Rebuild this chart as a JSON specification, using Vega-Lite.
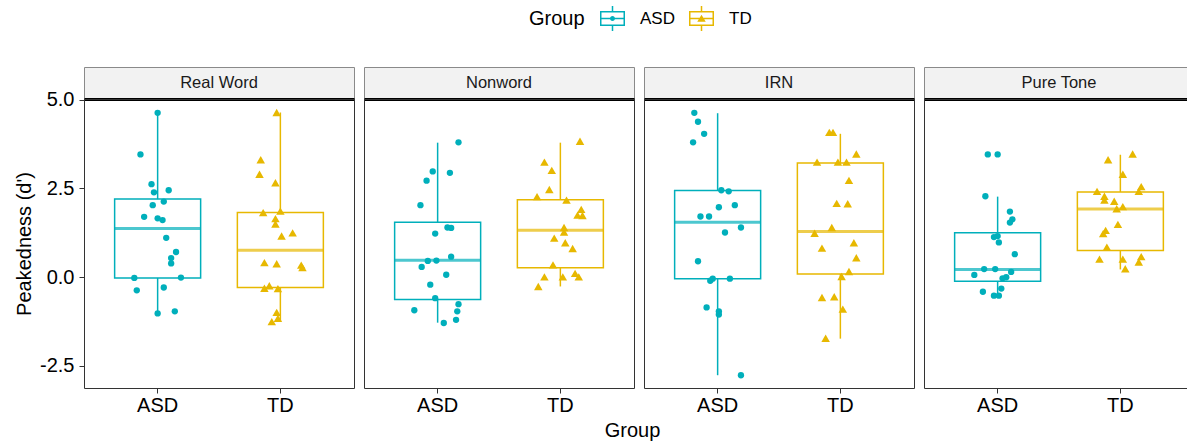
{
 "$schema": "https://vega.github.io/schema/vega-lite/v6.json",
 "padding": {"left": 14, "top": 6, "right": 0, "bottom": 0},
 "background": "white",
 "columns": 4,
 "spacing": {"row": 0, "column": 10},
 "bounds": "flush",
 "config": {
  "font": "Liberation Sans",
  "view": {"stroke": "#333333", "strokeWidth": 1},
  "axis": {"grid": false, "domain": false, "tickColor": "#333333", "tickSize": 5, "labelColor": "black", "labelFontSize": 20, "titleFontSize": 20, "titleFontWeight": "normal", "titleColor": "black"},
  "axisX": {"labelAngle": 0, "labelPadding": 2, "titlePadding": 5},
  "axisY": {"labelPadding": 5, "titlePadding": 5},
  "legend": {"orient": "none", "legendX": 445, "legendY": -61, "direction": "horizontal", "titleOrient": "left", "titleFontSize": 20, "titleFontWeight": "normal", "titleColor": "black", "titlePadding": 15, "titleBaseline": "middle", "titleAnchor": "middle", "labelFontSize": 17, "labelColor": "black", "symbolSize": 625, "labelOffset": 15, "columnPadding": 14, "symbolStrokeWidth": 0}
 },
 "datasets": {
  "box": [
   {"Condition": "Real Word", "Group": "ASD", "lower": -1.02, "q1": -0.02, "median": 1.37, "q3": 2.20, "upper": 4.63},
   {"Condition": "Real Word", "Group": "TD", "lower": -1.25, "q1": -0.29, "median": 0.76, "q3": 1.82, "upper": 4.64},
   {"Condition": "Nonword", "Group": "ASD", "lower": -1.28, "q1": -0.63, "median": 0.48, "q3": 1.55, "upper": 3.79},
   {"Condition": "Nonword", "Group": "TD", "lower": -0.26, "q1": 0.27, "median": 1.32, "q3": 2.18, "upper": 3.79},
   {"Condition": "IRN", "Group": "ASD", "lower": -2.76, "q1": -0.04, "median": 1.55, "q3": 2.44, "upper": 4.62},
   {"Condition": "IRN", "Group": "TD", "lower": -1.73, "q1": 0.09, "median": 1.29, "q3": 3.22, "upper": 4.04},
   {"Condition": "Pure Tone", "Group": "ASD", "lower": -0.53, "q1": -0.11, "median": 0.22, "q3": 1.25, "upper": 2.27},
   {"Condition": "Pure Tone", "Group": "TD", "lower": 0.22, "q1": 0.75, "median": 1.92, "q3": 2.40, "upper": 3.45}
  ],
  "pts": [
   {"Condition": "Real Word", "Group": "ASD", "jitter": 0.00, "value": 4.63},
   {"Condition": "Real Word", "Group": "ASD", "jitter": -0.14, "value": 3.46},
   {"Condition": "Real Word", "Group": "ASD", "jitter": -0.05, "value": 2.62},
   {"Condition": "Real Word", "Group": "ASD", "jitter": -0.03, "value": 2.39},
   {"Condition": "Real Word", "Group": "ASD", "jitter": 0.09, "value": 2.45},
   {"Condition": "Real Word", "Group": "ASD", "jitter": 0.05, "value": 2.13},
   {"Condition": "Real Word", "Group": "ASD", "jitter": -0.04, "value": 2.03},
   {"Condition": "Real Word", "Group": "ASD", "jitter": -0.11, "value": 1.70},
   {"Condition": "Real Word", "Group": "ASD", "jitter": 0.00, "value": 1.66},
   {"Condition": "Real Word", "Group": "ASD", "jitter": 0.04, "value": 1.61},
   {"Condition": "Real Word", "Group": "ASD", "jitter": 0.07, "value": 1.11},
   {"Condition": "Real Word", "Group": "ASD", "jitter": 0.15, "value": 0.71},
   {"Condition": "Real Word", "Group": "ASD", "jitter": 0.11, "value": 0.54},
   {"Condition": "Real Word", "Group": "ASD", "jitter": 0.11, "value": 0.39},
   {"Condition": "Real Word", "Group": "ASD", "jitter": -0.19, "value": -0.02},
   {"Condition": "Real Word", "Group": "ASD", "jitter": 0.19, "value": -0.01},
   {"Condition": "Real Word", "Group": "ASD", "jitter": -0.17, "value": -0.37},
   {"Condition": "Real Word", "Group": "ASD", "jitter": 0.05, "value": -0.29},
   {"Condition": "Real Word", "Group": "ASD", "jitter": 0.00, "value": -1.02},
   {"Condition": "Real Word", "Group": "ASD", "jitter": 0.14, "value": -0.96},
   {"Condition": "Real Word", "Group": "TD", "jitter": -0.03, "value": 4.64},
   {"Condition": "Real Word", "Group": "TD", "jitter": -0.16, "value": 3.31},
   {"Condition": "Real Word", "Group": "TD", "jitter": -0.17, "value": 2.90},
   {"Condition": "Real Word", "Group": "TD", "jitter": -0.04, "value": 2.66},
   {"Condition": "Real Word", "Group": "TD", "jitter": -0.14, "value": 1.82},
   {"Condition": "Real Word", "Group": "TD", "jitter": 0.00, "value": 1.86},
   {"Condition": "Real Word", "Group": "TD", "jitter": -0.04, "value": 1.65},
   {"Condition": "Real Word", "Group": "TD", "jitter": -0.04, "value": 1.50},
   {"Condition": "Real Word", "Group": "TD", "jitter": 0.01, "value": 1.16},
   {"Condition": "Real Word", "Group": "TD", "jitter": 0.10, "value": 1.25},
   {"Condition": "Real Word", "Group": "TD", "jitter": -0.13, "value": 0.41},
   {"Condition": "Real Word", "Group": "TD", "jitter": -0.03, "value": 0.38},
   {"Condition": "Real Word", "Group": "TD", "jitter": 0.17, "value": 0.34},
   {"Condition": "Real Word", "Group": "TD", "jitter": 0.18, "value": 0.27},
   {"Condition": "Real Word", "Group": "TD", "jitter": -0.13, "value": -0.31},
   {"Condition": "Real Word", "Group": "TD", "jitter": -0.09, "value": -0.24},
   {"Condition": "Real Word", "Group": "TD", "jitter": -0.02, "value": -0.32},
   {"Condition": "Real Word", "Group": "TD", "jitter": -0.03, "value": -0.99},
   {"Condition": "Real Word", "Group": "TD", "jitter": -0.02, "value": -1.16},
   {"Condition": "Real Word", "Group": "TD", "jitter": -0.07, "value": -1.25},
   {"Condition": "Nonword", "Group": "ASD", "jitter": 0.17, "value": 3.80},
   {"Condition": "Nonword", "Group": "ASD", "jitter": -0.04, "value": 2.98},
   {"Condition": "Nonword", "Group": "ASD", "jitter": 0.10, "value": 2.94},
   {"Condition": "Nonword", "Group": "ASD", "jitter": -0.09, "value": 2.72},
   {"Condition": "Nonword", "Group": "ASD", "jitter": -0.14, "value": 2.03},
   {"Condition": "Nonword", "Group": "ASD", "jitter": 0.08, "value": 1.40},
   {"Condition": "Nonword", "Group": "ASD", "jitter": 0.11, "value": 1.39},
   {"Condition": "Nonword", "Group": "ASD", "jitter": -0.02, "value": 1.23},
   {"Condition": "Nonword", "Group": "ASD", "jitter": -0.08, "value": 0.46},
   {"Condition": "Nonword", "Group": "ASD", "jitter": -0.01, "value": 0.47},
   {"Condition": "Nonword", "Group": "ASD", "jitter": 0.11, "value": 0.58},
   {"Condition": "Nonword", "Group": "ASD", "jitter": -0.13, "value": 0.29},
   {"Condition": "Nonword", "Group": "ASD", "jitter": 0.07, "value": 0.07},
   {"Condition": "Nonword", "Group": "ASD", "jitter": -0.06, "value": -0.21},
   {"Condition": "Nonword", "Group": "ASD", "jitter": -0.02, "value": -0.59},
   {"Condition": "Nonword", "Group": "ASD", "jitter": 0.17, "value": -0.76},
   {"Condition": "Nonword", "Group": "ASD", "jitter": 0.16, "value": -0.96},
   {"Condition": "Nonword", "Group": "ASD", "jitter": -0.19, "value": -0.93},
   {"Condition": "Nonword", "Group": "ASD", "jitter": 0.15, "value": -1.20},
   {"Condition": "Nonword", "Group": "ASD", "jitter": 0.05, "value": -1.29},
   {"Condition": "Nonword", "Group": "TD", "jitter": 0.16, "value": 3.83},
   {"Condition": "Nonword", "Group": "TD", "jitter": -0.13, "value": 3.24},
   {"Condition": "Nonword", "Group": "TD", "jitter": -0.07, "value": 3.01},
   {"Condition": "Nonword", "Group": "TD", "jitter": -0.09, "value": 2.47},
   {"Condition": "Nonword", "Group": "TD", "jitter": -0.19, "value": 2.27},
   {"Condition": "Nonword", "Group": "TD", "jitter": 0.05, "value": 2.17},
   {"Condition": "Nonword", "Group": "TD", "jitter": 0.17, "value": 1.91},
   {"Condition": "Nonword", "Group": "TD", "jitter": 0.14, "value": 1.75},
   {"Condition": "Nonword", "Group": "TD", "jitter": 0.18, "value": 1.74},
   {"Condition": "Nonword", "Group": "TD", "jitter": 0.03, "value": 1.40},
   {"Condition": "Nonword", "Group": "TD", "jitter": 0.03, "value": 1.27},
   {"Condition": "Nonword", "Group": "TD", "jitter": -0.05, "value": 1.10},
   {"Condition": "Nonword", "Group": "TD", "jitter": 0.04, "value": 0.97},
   {"Condition": "Nonword", "Group": "TD", "jitter": 0.10, "value": 0.81},
   {"Condition": "Nonword", "Group": "TD", "jitter": -0.06, "value": 0.35},
   {"Condition": "Nonword", "Group": "TD", "jitter": -0.13, "value": 0.01},
   {"Condition": "Nonword", "Group": "TD", "jitter": 0.02, "value": 0.01},
   {"Condition": "Nonword", "Group": "TD", "jitter": 0.12, "value": 0.11},
   {"Condition": "Nonword", "Group": "TD", "jitter": 0.15, "value": 0.01},
   {"Condition": "Nonword", "Group": "TD", "jitter": -0.18, "value": -0.26},
   {"Condition": "IRN", "Group": "ASD", "jitter": -0.19, "value": 4.63},
   {"Condition": "IRN", "Group": "ASD", "jitter": -0.16, "value": 4.38},
   {"Condition": "IRN", "Group": "ASD", "jitter": -0.11, "value": 4.04},
   {"Condition": "IRN", "Group": "ASD", "jitter": -0.20, "value": 3.80},
   {"Condition": "IRN", "Group": "ASD", "jitter": 0.03, "value": 2.45},
   {"Condition": "IRN", "Group": "ASD", "jitter": 0.09, "value": 2.42},
   {"Condition": "IRN", "Group": "ASD", "jitter": 0.14, "value": 2.03},
   {"Condition": "IRN", "Group": "ASD", "jitter": 0.01, "value": 1.97},
   {"Condition": "IRN", "Group": "ASD", "jitter": -0.14, "value": 1.71},
   {"Condition": "IRN", "Group": "ASD", "jitter": -0.07, "value": 1.71},
   {"Condition": "IRN", "Group": "ASD", "jitter": 0.19, "value": 1.40},
   {"Condition": "IRN", "Group": "ASD", "jitter": 0.06, "value": 1.26},
   {"Condition": "IRN", "Group": "ASD", "jitter": -0.16, "value": 0.45},
   {"Condition": "IRN", "Group": "ASD", "jitter": -0.04, "value": -0.04},
   {"Condition": "IRN", "Group": "ASD", "jitter": -0.06, "value": -0.10},
   {"Condition": "IRN", "Group": "ASD", "jitter": 0.10, "value": -0.04},
   {"Condition": "IRN", "Group": "ASD", "jitter": -0.09, "value": -0.85},
   {"Condition": "IRN", "Group": "ASD", "jitter": 0.01, "value": -0.96},
   {"Condition": "IRN", "Group": "ASD", "jitter": 0.01, "value": -1.05},
   {"Condition": "IRN", "Group": "ASD", "jitter": 0.19, "value": -2.76},
   {"Condition": "IRN", "Group": "TD", "jitter": -0.09, "value": 4.08},
   {"Condition": "IRN", "Group": "TD", "jitter": -0.06, "value": 4.08},
   {"Condition": "IRN", "Group": "TD", "jitter": 0.13, "value": 3.47},
   {"Condition": "IRN", "Group": "TD", "jitter": -0.19, "value": 3.24},
   {"Condition": "IRN", "Group": "TD", "jitter": -0.02, "value": 3.24},
   {"Condition": "IRN", "Group": "TD", "jitter": 0.05, "value": 3.24},
   {"Condition": "IRN", "Group": "TD", "jitter": 0.07, "value": 2.73},
   {"Condition": "IRN", "Group": "TD", "jitter": -0.03, "value": 2.08},
   {"Condition": "IRN", "Group": "TD", "jitter": 0.06, "value": 2.07},
   {"Condition": "IRN", "Group": "TD", "jitter": -0.07, "value": 1.40},
   {"Condition": "IRN", "Group": "TD", "jitter": -0.21, "value": 1.24},
   {"Condition": "IRN", "Group": "TD", "jitter": -0.15, "value": 0.82},
   {"Condition": "IRN", "Group": "TD", "jitter": 0.11, "value": 0.97},
   {"Condition": "IRN", "Group": "TD", "jitter": 0.13, "value": 0.55},
   {"Condition": "IRN", "Group": "TD", "jitter": 0.07, "value": 0.16},
   {"Condition": "IRN", "Group": "TD", "jitter": 0.01, "value": 0.02},
   {"Condition": "IRN", "Group": "TD", "jitter": -0.15, "value": -0.57},
   {"Condition": "IRN", "Group": "TD", "jitter": -0.05, "value": -0.55},
   {"Condition": "IRN", "Group": "TD", "jitter": 0.02, "value": -0.90},
   {"Condition": "IRN", "Group": "TD", "jitter": -0.12, "value": -1.72},
   {"Condition": "Pure Tone", "Group": "ASD", "jitter": -0.08, "value": 3.46},
   {"Condition": "Pure Tone", "Group": "ASD", "jitter": 0.00, "value": 3.46},
   {"Condition": "Pure Tone", "Group": "ASD", "jitter": -0.10, "value": 2.28},
   {"Condition": "Pure Tone", "Group": "ASD", "jitter": 0.10, "value": 1.85},
   {"Condition": "Pure Tone", "Group": "ASD", "jitter": 0.12, "value": 1.63},
   {"Condition": "Pure Tone", "Group": "ASD", "jitter": 0.10, "value": 1.54},
   {"Condition": "Pure Tone", "Group": "ASD", "jitter": -0.03, "value": 1.13},
   {"Condition": "Pure Tone", "Group": "ASD", "jitter": 0.00, "value": 1.16},
   {"Condition": "Pure Tone", "Group": "ASD", "jitter": 0.01, "value": 0.98},
   {"Condition": "Pure Tone", "Group": "ASD", "jitter": 0.14, "value": 0.65},
   {"Condition": "Pure Tone", "Group": "ASD", "jitter": -0.11, "value": 0.23},
   {"Condition": "Pure Tone", "Group": "ASD", "jitter": -0.02, "value": 0.23},
   {"Condition": "Pure Tone", "Group": "ASD", "jitter": 0.11, "value": 0.15},
   {"Condition": "Pure Tone", "Group": "ASD", "jitter": -0.19, "value": 0.065},
   {"Condition": "Pure Tone", "Group": "ASD", "jitter": 0.04, "value": -0.03},
   {"Condition": "Pure Tone", "Group": "ASD", "jitter": 0.07, "value": 0.00},
   {"Condition": "Pure Tone", "Group": "ASD", "jitter": 0.03, "value": -0.32},
   {"Condition": "Pure Tone", "Group": "ASD", "jitter": -0.12, "value": -0.41},
   {"Condition": "Pure Tone", "Group": "ASD", "jitter": -0.03, "value": -0.52},
   {"Condition": "Pure Tone", "Group": "ASD", "jitter": 0.01, "value": -0.52},
   {"Condition": "Pure Tone", "Group": "TD", "jitter": 0.10, "value": 3.47},
   {"Condition": "Pure Tone", "Group": "TD", "jitter": -0.10, "value": 3.31},
   {"Condition": "Pure Tone", "Group": "TD", "jitter": 0.02, "value": 2.90},
   {"Condition": "Pure Tone", "Group": "TD", "jitter": -0.19, "value": 2.42},
   {"Condition": "Pure Tone", "Group": "TD", "jitter": 0.17, "value": 2.55},
   {"Condition": "Pure Tone", "Group": "TD", "jitter": 0.15, "value": 2.42},
   {"Condition": "Pure Tone", "Group": "TD", "jitter": -0.13, "value": 2.28},
   {"Condition": "Pure Tone", "Group": "TD", "jitter": -0.13, "value": 2.17},
   {"Condition": "Pure Tone", "Group": "TD", "jitter": -0.05, "value": 2.14},
   {"Condition": "Pure Tone", "Group": "TD", "jitter": 0.02, "value": 1.99},
   {"Condition": "Pure Tone", "Group": "TD", "jitter": -0.03, "value": 1.93},
   {"Condition": "Pure Tone", "Group": "TD", "jitter": -0.02, "value": 1.49},
   {"Condition": "Pure Tone", "Group": "TD", "jitter": -0.12, "value": 1.32},
   {"Condition": "Pure Tone", "Group": "TD", "jitter": -0.14, "value": 1.23},
   {"Condition": "Pure Tone", "Group": "TD", "jitter": -0.11, "value": 0.85},
   {"Condition": "Pure Tone", "Group": "TD", "jitter": -0.17, "value": 0.51},
   {"Condition": "Pure Tone", "Group": "TD", "jitter": 0.02, "value": 0.51},
   {"Condition": "Pure Tone", "Group": "TD", "jitter": 0.17, "value": 0.58},
   {"Condition": "Pure Tone", "Group": "TD", "jitter": 0.15, "value": 0.43},
   {"Condition": "Pure Tone", "Group": "TD", "jitter": 0.04, "value": 0.24}
  ]
 },
 "concat": [
  {"width": 270, "height": 32, "view": {"fill": "#F2F2F2", "stroke": "#8A8A8A", "strokeWidth": 1},
   "data": {"values": [{"Condition": "Real Word"}]},
   "mark": {"type": "text", "fontSize": 16.5, "color": "#1A1A1A", "baseline": "middle"},
   "encoding": {"x": {"field": "Condition", "type": "nominal", "axis": {"labels": false, "ticks": false, "domain": true, "domainColor": "black", "domainWidth": 3, "title": null}}, "text": {"field": "Condition"}}},
  {"width": 270, "height": 32, "view": {"fill": "#F2F2F2", "stroke": "#8A8A8A", "strokeWidth": 1},
   "data": {"values": [{"Condition": "Nonword"}]},
   "mark": {"type": "text", "fontSize": 16.5, "color": "#1A1A1A", "baseline": "middle"},
   "encoding": {"x": {"field": "Condition", "type": "nominal", "axis": {"labels": false, "ticks": false, "domain": true, "domainColor": "black", "domainWidth": 3, "title": null}}, "text": {"field": "Condition"}}},
  {"width": 270, "height": 32, "view": {"fill": "#F2F2F2", "stroke": "#8A8A8A", "strokeWidth": 1},
   "data": {"values": [{"Condition": "IRN"}]},
   "mark": {"type": "text", "fontSize": 16.5, "color": "#1A1A1A", "baseline": "middle"},
   "encoding": {"x": {"field": "Condition", "type": "nominal", "axis": {"labels": false, "ticks": false, "domain": true, "domainColor": "black", "domainWidth": 3, "title": null}}, "text": {"field": "Condition"}}},
  {"width": 270, "height": 32, "view": {"fill": "#F2F2F2", "stroke": "#8A8A8A", "strokeWidth": 1},
   "data": {"values": [{"Condition": "Pure Tone"}]},
   "mark": {"type": "text", "fontSize": 16.5, "color": "#1A1A1A", "baseline": "middle"},
   "encoding": {"x": {"field": "Condition", "type": "nominal", "axis": {"labels": false, "ticks": false, "domain": true, "domainColor": "black", "domainWidth": 3, "title": null}}, "text": {"field": "Condition"}}},

  {"width": 270, "height": 289,
   "layer": [
    {"data": {"name": "box"}, "transform": [{"filter": "datum.Condition === 'Real Word'"}],
     "encoding": {
      "x": {"field": "Group", "type": "nominal", "scale": {"type": "band", "domain": ["ASD", "TD"], "paddingInner": 0, "paddingOuter": 0.1}, "axis": {"title": null}},
      "color": {"field": "Group", "type": "nominal", "scale": {"domain": ["ASD", "TD"], "range": ["#00AFBB", "#E7B800"]},
       "legend": {"title": "Group", "encode": {"symbols": {"update": {"shape": {"signal": "datum.value === 'ASD' ? 'M-1,-0.6H1V0.6H-1Z M-0.88,-0.48V0.48H0.88V-0.48Z M-0.88,-0.06H0.88V0.06H-0.88Z M-0.06,-1H0.06V-0.6H-0.06Z M-0.06,0.6H0.06V1H-0.06Z M-0.2,0A0.2,0.2 0 1,1 0.2,0A0.2,0.2 0 1,1 -0.2,0Z' : 'M-1,-0.6H1V0.6H-1Z M-0.88,-0.48V0.48H0.88V-0.48Z M-0.88,-0.06H0.88V0.06H-0.88Z M-0.06,-1H0.06V-0.6H-0.06Z M-0.06,0.6H0.06V1H-0.06Z M0,-0.3L0.34,0.26L-0.34,0.26Z'"}, "size": {"value": 625}, "fillOpacity": {"value": 1}, "opacity": {"value": 1}, "strokeWidth": {"value": 0}}}}}}},
     "layer": [
      {"mark": {"type": "rule", "strokeWidth": 1.5}, "encoding": {"y": {"field": "lower", "type": "quantitative", "scale": {"domain": [-3.12, 5.02], "nice": false, "zero": false}, "title": "Peakedness (d')", "axis": {"values": [-2.5, 0, 2.5, 5], "labelExpr": "replace(format(datum.value, '.1f'), '\u2212', '-')"}}, "y2": {"field": "q1"}}},
      {"mark": {"type": "rule", "strokeWidth": 1.5}, "encoding": {"y": {"field": "q3", "type": "quantitative", "scale": {"domain": [-3.12, 5.02], "nice": false, "zero": false}, "title": "Peakedness (d')", "axis": {"values": [-2.5, 0, 2.5, 5], "labelExpr": "replace(format(datum.value, '.1f'), '\u2212', '-')"}}, "y2": {"field": "upper"}}},
      {"mark": {"type": "bar", "filled": false, "size": 86, "strokeWidth": 1.5}, "encoding": {"y": {"field": "q1", "type": "quantitative", "scale": {"domain": [-3.12, 5.02], "nice": false, "zero": false}, "title": "Peakedness (d')", "axis": {"values": [-2.5, 0, 2.5, 5], "labelExpr": "replace(format(datum.value, '.1f'), '\u2212', '-')"}}, "y2": {"field": "q3"}}},
      {"mark": {"type": "tick", "size": 86, "thickness": 3}, "encoding": {"y": {"field": "median", "type": "quantitative", "scale": {"domain": [-3.12, 5.02], "nice": false, "zero": false}, "title": "Peakedness (d')", "axis": {"values": [-2.5, 0, 2.5, 5], "labelExpr": "replace(format(datum.value, '.1f'), '\u2212', '-')"}}}}
     ]},
    {"data": {"name": "pts"}, "transform": [{"filter": "datum.Condition === 'Real Word'"}],
     "mark": {"type": "point", "filled": true, "opacity": 1, "strokeWidth": 0},
     "encoding": {
      "x": {"field": "Group", "type": "nominal", "scale": {"type": "band", "domain": ["ASD", "TD"], "paddingInner": 0, "paddingOuter": 0.1}, "axis": {"title": null}},
      "xOffset": {"field": "jitter", "type": "quantitative", "scale": {"domain": [-0.5, 0.5]}},
      "y": {"field": "value", "type": "quantitative", "scale": {"domain": [-3.12, 5.02], "nice": false, "zero": false}, "title": "Peakedness (d')", "axis": {"values": [-2.5, 0, 2.5, 5], "labelExpr": "replace(format(datum.value, '.1f'), '\u2212', '-')"}},
      "color": {"field": "Group", "type": "nominal", "scale": {"domain": ["ASD", "TD"], "range": ["#00AFBB", "#E7B800"]},
       "legend": {"title": "Group", "encode": {"symbols": {"update": {"shape": {"signal": "datum.value === 'ASD' ? 'M-1,-0.6H1V0.6H-1Z M-0.88,-0.48V0.48H0.88V-0.48Z M-0.88,-0.06H0.88V0.06H-0.88Z M-0.06,-1H0.06V-0.6H-0.06Z M-0.06,0.6H0.06V1H-0.06Z M-0.2,0A0.2,0.2 0 1,1 0.2,0A0.2,0.2 0 1,1 -0.2,0Z' : 'M-1,-0.6H1V0.6H-1Z M-0.88,-0.48V0.48H0.88V-0.48Z M-0.88,-0.06H0.88V0.06H-0.88Z M-0.06,-1H0.06V-0.6H-0.06Z M-0.06,0.6H0.06V1H-0.06Z M0,-0.3L0.34,0.26L-0.34,0.26Z'"}, "size": {"value": 625}, "fillOpacity": {"value": 1}, "opacity": {"value": 1}, "strokeWidth": {"value": 0}}}}}},
      "shape": {"condition": {"test": "datum.Group === 'TD'", "value": "triangle-up"}, "value": "circle"},
      "size": {"condition": {"test": "datum.Group === 'TD'", "value": 72}, "value": 40}}}
   ]},

  {"width": 270, "height": 289,
   "layer": [
    {"data": {"name": "box"}, "transform": [{"filter": "datum.Condition === 'Nonword'"}],
     "encoding": {
      "x": {"field": "Group", "type": "nominal", "scale": {"type": "band", "domain": ["ASD", "TD"], "paddingInner": 0, "paddingOuter": 0.1}, "axis": {"title": "Group", "titleX": 268}},
      "color": {"field": "Group", "type": "nominal", "scale": {"domain": ["ASD", "TD"], "range": ["#00AFBB", "#E7B800"]},
       "legend": {"title": "Group", "encode": {"symbols": {"update": {"shape": {"signal": "datum.value === 'ASD' ? 'M-1,-0.6H1V0.6H-1Z M-0.88,-0.48V0.48H0.88V-0.48Z M-0.88,-0.06H0.88V0.06H-0.88Z M-0.06,-1H0.06V-0.6H-0.06Z M-0.06,0.6H0.06V1H-0.06Z M-0.2,0A0.2,0.2 0 1,1 0.2,0A0.2,0.2 0 1,1 -0.2,0Z' : 'M-1,-0.6H1V0.6H-1Z M-0.88,-0.48V0.48H0.88V-0.48Z M-0.88,-0.06H0.88V0.06H-0.88Z M-0.06,-1H0.06V-0.6H-0.06Z M-0.06,0.6H0.06V1H-0.06Z M0,-0.3L0.34,0.26L-0.34,0.26Z'"}, "size": {"value": 625}, "fillOpacity": {"value": 1}, "opacity": {"value": 1}, "strokeWidth": {"value": 0}}}}}}},
     "layer": [
      {"mark": {"type": "rule", "strokeWidth": 1.5}, "encoding": {"y": {"field": "lower", "type": "quantitative", "scale": {"domain": [-3.12, 5.02], "nice": false, "zero": false}, "axis": null}, "y2": {"field": "q1"}}},
      {"mark": {"type": "rule", "strokeWidth": 1.5}, "encoding": {"y": {"field": "q3", "type": "quantitative", "scale": {"domain": [-3.12, 5.02], "nice": false, "zero": false}, "axis": null}, "y2": {"field": "upper"}}},
      {"mark": {"type": "bar", "filled": false, "size": 86, "strokeWidth": 1.5}, "encoding": {"y": {"field": "q1", "type": "quantitative", "scale": {"domain": [-3.12, 5.02], "nice": false, "zero": false}, "axis": null}, "y2": {"field": "q3"}}},
      {"mark": {"type": "tick", "size": 86, "thickness": 3}, "encoding": {"y": {"field": "median", "type": "quantitative", "scale": {"domain": [-3.12, 5.02], "nice": false, "zero": false}, "axis": null}}}
     ]},
    {"data": {"name": "pts"}, "transform": [{"filter": "datum.Condition === 'Nonword'"}],
     "mark": {"type": "point", "filled": true, "opacity": 1, "strokeWidth": 0},
     "encoding": {
      "x": {"field": "Group", "type": "nominal", "scale": {"type": "band", "domain": ["ASD", "TD"], "paddingInner": 0, "paddingOuter": 0.1}, "axis": {"title": "Group", "titleX": 268}},
      "xOffset": {"field": "jitter", "type": "quantitative", "scale": {"domain": [-0.5, 0.5]}},
      "y": {"field": "value", "type": "quantitative", "scale": {"domain": [-3.12, 5.02], "nice": false, "zero": false}, "axis": null},
      "color": {"field": "Group", "type": "nominal", "scale": {"domain": ["ASD", "TD"], "range": ["#00AFBB", "#E7B800"]},
       "legend": {"title": "Group", "encode": {"symbols": {"update": {"shape": {"signal": "datum.value === 'ASD' ? 'M-1,-0.6H1V0.6H-1Z M-0.88,-0.48V0.48H0.88V-0.48Z M-0.88,-0.06H0.88V0.06H-0.88Z M-0.06,-1H0.06V-0.6H-0.06Z M-0.06,0.6H0.06V1H-0.06Z M-0.2,0A0.2,0.2 0 1,1 0.2,0A0.2,0.2 0 1,1 -0.2,0Z' : 'M-1,-0.6H1V0.6H-1Z M-0.88,-0.48V0.48H0.88V-0.48Z M-0.88,-0.06H0.88V0.06H-0.88Z M-0.06,-1H0.06V-0.6H-0.06Z M-0.06,0.6H0.06V1H-0.06Z M0,-0.3L0.34,0.26L-0.34,0.26Z'"}, "size": {"value": 625}, "fillOpacity": {"value": 1}, "opacity": {"value": 1}, "strokeWidth": {"value": 0}}}}}},
      "shape": {"condition": {"test": "datum.Group === 'TD'", "value": "triangle-up"}, "value": "circle"},
      "size": {"condition": {"test": "datum.Group === 'TD'", "value": 72}, "value": 40}}}
   ]},

  {"width": 270, "height": 289,
   "layer": [
    {"data": {"name": "box"}, "transform": [{"filter": "datum.Condition === 'IRN'"}],
     "encoding": {
      "x": {"field": "Group", "type": "nominal", "scale": {"type": "band", "domain": ["ASD", "TD"], "paddingInner": 0, "paddingOuter": 0.1}, "axis": {"title": null}},
      "color": {"field": "Group", "type": "nominal", "scale": {"domain": ["ASD", "TD"], "range": ["#00AFBB", "#E7B800"]},
       "legend": {"title": "Group", "encode": {"symbols": {"update": {"shape": {"signal": "datum.value === 'ASD' ? 'M-1,-0.6H1V0.6H-1Z M-0.88,-0.48V0.48H0.88V-0.48Z M-0.88,-0.06H0.88V0.06H-0.88Z M-0.06,-1H0.06V-0.6H-0.06Z M-0.06,0.6H0.06V1H-0.06Z M-0.2,0A0.2,0.2 0 1,1 0.2,0A0.2,0.2 0 1,1 -0.2,0Z' : 'M-1,-0.6H1V0.6H-1Z M-0.88,-0.48V0.48H0.88V-0.48Z M-0.88,-0.06H0.88V0.06H-0.88Z M-0.06,-1H0.06V-0.6H-0.06Z M-0.06,0.6H0.06V1H-0.06Z M0,-0.3L0.34,0.26L-0.34,0.26Z'"}, "size": {"value": 625}, "fillOpacity": {"value": 1}, "opacity": {"value": 1}, "strokeWidth": {"value": 0}}}}}}},
     "layer": [
      {"mark": {"type": "rule", "strokeWidth": 1.5}, "encoding": {"y": {"field": "lower", "type": "quantitative", "scale": {"domain": [-3.12, 5.02], "nice": false, "zero": false}, "axis": null}, "y2": {"field": "q1"}}},
      {"mark": {"type": "rule", "strokeWidth": 1.5}, "encoding": {"y": {"field": "q3", "type": "quantitative", "scale": {"domain": [-3.12, 5.02], "nice": false, "zero": false}, "axis": null}, "y2": {"field": "upper"}}},
      {"mark": {"type": "bar", "filled": false, "size": 86, "strokeWidth": 1.5}, "encoding": {"y": {"field": "q1", "type": "quantitative", "scale": {"domain": [-3.12, 5.02], "nice": false, "zero": false}, "axis": null}, "y2": {"field": "q3"}}},
      {"mark": {"type": "tick", "size": 86, "thickness": 3}, "encoding": {"y": {"field": "median", "type": "quantitative", "scale": {"domain": [-3.12, 5.02], "nice": false, "zero": false}, "axis": null}}}
     ]},
    {"data": {"name": "pts"}, "transform": [{"filter": "datum.Condition === 'IRN'"}],
     "mark": {"type": "point", "filled": true, "opacity": 1, "strokeWidth": 0},
     "encoding": {
      "x": {"field": "Group", "type": "nominal", "scale": {"type": "band", "domain": ["ASD", "TD"], "paddingInner": 0, "paddingOuter": 0.1}, "axis": {"title": null}},
      "xOffset": {"field": "jitter", "type": "quantitative", "scale": {"domain": [-0.5, 0.5]}},
      "y": {"field": "value", "type": "quantitative", "scale": {"domain": [-3.12, 5.02], "nice": false, "zero": false}, "axis": null},
      "color": {"field": "Group", "type": "nominal", "scale": {"domain": ["ASD", "TD"], "range": ["#00AFBB", "#E7B800"]},
       "legend": {"title": "Group", "encode": {"symbols": {"update": {"shape": {"signal": "datum.value === 'ASD' ? 'M-1,-0.6H1V0.6H-1Z M-0.88,-0.48V0.48H0.88V-0.48Z M-0.88,-0.06H0.88V0.06H-0.88Z M-0.06,-1H0.06V-0.6H-0.06Z M-0.06,0.6H0.06V1H-0.06Z M-0.2,0A0.2,0.2 0 1,1 0.2,0A0.2,0.2 0 1,1 -0.2,0Z' : 'M-1,-0.6H1V0.6H-1Z M-0.88,-0.48V0.48H0.88V-0.48Z M-0.88,-0.06H0.88V0.06H-0.88Z M-0.06,-1H0.06V-0.6H-0.06Z M-0.06,0.6H0.06V1H-0.06Z M0,-0.3L0.34,0.26L-0.34,0.26Z'"}, "size": {"value": 625}, "fillOpacity": {"value": 1}, "opacity": {"value": 1}, "strokeWidth": {"value": 0}}}}}},
      "shape": {"condition": {"test": "datum.Group === 'TD'", "value": "triangle-up"}, "value": "circle"},
      "size": {"condition": {"test": "datum.Group === 'TD'", "value": 72}, "value": 40}}}
   ]},

  {"width": 270, "height": 289,
   "layer": [
    {"data": {"name": "box"}, "transform": [{"filter": "datum.Condition === 'Pure Tone'"}],
     "encoding": {
      "x": {"field": "Group", "type": "nominal", "scale": {"type": "band", "domain": ["ASD", "TD"], "paddingInner": 0, "paddingOuter": 0.1}, "axis": {"title": null}},
      "color": {"field": "Group", "type": "nominal", "scale": {"domain": ["ASD", "TD"], "range": ["#00AFBB", "#E7B800"]},
       "legend": {"title": "Group", "encode": {"symbols": {"update": {"shape": {"signal": "datum.value === 'ASD' ? 'M-1,-0.6H1V0.6H-1Z M-0.88,-0.48V0.48H0.88V-0.48Z M-0.88,-0.06H0.88V0.06H-0.88Z M-0.06,-1H0.06V-0.6H-0.06Z M-0.06,0.6H0.06V1H-0.06Z M-0.2,0A0.2,0.2 0 1,1 0.2,0A0.2,0.2 0 1,1 -0.2,0Z' : 'M-1,-0.6H1V0.6H-1Z M-0.88,-0.48V0.48H0.88V-0.48Z M-0.88,-0.06H0.88V0.06H-0.88Z M-0.06,-1H0.06V-0.6H-0.06Z M-0.06,0.6H0.06V1H-0.06Z M0,-0.3L0.34,0.26L-0.34,0.26Z'"}, "size": {"value": 625}, "fillOpacity": {"value": 1}, "opacity": {"value": 1}, "strokeWidth": {"value": 0}}}}}}},
     "layer": [
      {"mark": {"type": "rule", "strokeWidth": 1.5}, "encoding": {"y": {"field": "lower", "type": "quantitative", "scale": {"domain": [-3.12, 5.02], "nice": false, "zero": false}, "axis": null}, "y2": {"field": "q1"}}},
      {"mark": {"type": "rule", "strokeWidth": 1.5}, "encoding": {"y": {"field": "q3", "type": "quantitative", "scale": {"domain": [-3.12, 5.02], "nice": false, "zero": false}, "axis": null}, "y2": {"field": "upper"}}},
      {"mark": {"type": "bar", "filled": false, "size": 86, "strokeWidth": 1.5}, "encoding": {"y": {"field": "q1", "type": "quantitative", "scale": {"domain": [-3.12, 5.02], "nice": false, "zero": false}, "axis": null}, "y2": {"field": "q3"}}},
      {"mark": {"type": "tick", "size": 86, "thickness": 3}, "encoding": {"y": {"field": "median", "type": "quantitative", "scale": {"domain": [-3.12, 5.02], "nice": false, "zero": false}, "axis": null}}}
     ]},
    {"data": {"name": "pts"}, "transform": [{"filter": "datum.Condition === 'Pure Tone'"}],
     "mark": {"type": "point", "filled": true, "opacity": 1, "strokeWidth": 0},
     "encoding": {
      "x": {"field": "Group", "type": "nominal", "scale": {"type": "band", "domain": ["ASD", "TD"], "paddingInner": 0, "paddingOuter": 0.1}, "axis": {"title": null}},
      "xOffset": {"field": "jitter", "type": "quantitative", "scale": {"domain": [-0.5, 0.5]}},
      "y": {"field": "value", "type": "quantitative", "scale": {"domain": [-3.12, 5.02], "nice": false, "zero": false}, "axis": null},
      "color": {"field": "Group", "type": "nominal", "scale": {"domain": ["ASD", "TD"], "range": ["#00AFBB", "#E7B800"]},
       "legend": {"title": "Group", "encode": {"symbols": {"update": {"shape": {"signal": "datum.value === 'ASD' ? 'M-1,-0.6H1V0.6H-1Z M-0.88,-0.48V0.48H0.88V-0.48Z M-0.88,-0.06H0.88V0.06H-0.88Z M-0.06,-1H0.06V-0.6H-0.06Z M-0.06,0.6H0.06V1H-0.06Z M-0.2,0A0.2,0.2 0 1,1 0.2,0A0.2,0.2 0 1,1 -0.2,0Z' : 'M-1,-0.6H1V0.6H-1Z M-0.88,-0.48V0.48H0.88V-0.48Z M-0.88,-0.06H0.88V0.06H-0.88Z M-0.06,-1H0.06V-0.6H-0.06Z M-0.06,0.6H0.06V1H-0.06Z M0,-0.3L0.34,0.26L-0.34,0.26Z'"}, "size": {"value": 625}, "fillOpacity": {"value": 1}, "opacity": {"value": 1}, "strokeWidth": {"value": 0}}}}}},
      "shape": {"condition": {"test": "datum.Group === 'TD'", "value": "triangle-up"}, "value": "circle"},
      "size": {"condition": {"test": "datum.Group === 'TD'", "value": 72}, "value": 40}}}
   ]}
 ]
}
